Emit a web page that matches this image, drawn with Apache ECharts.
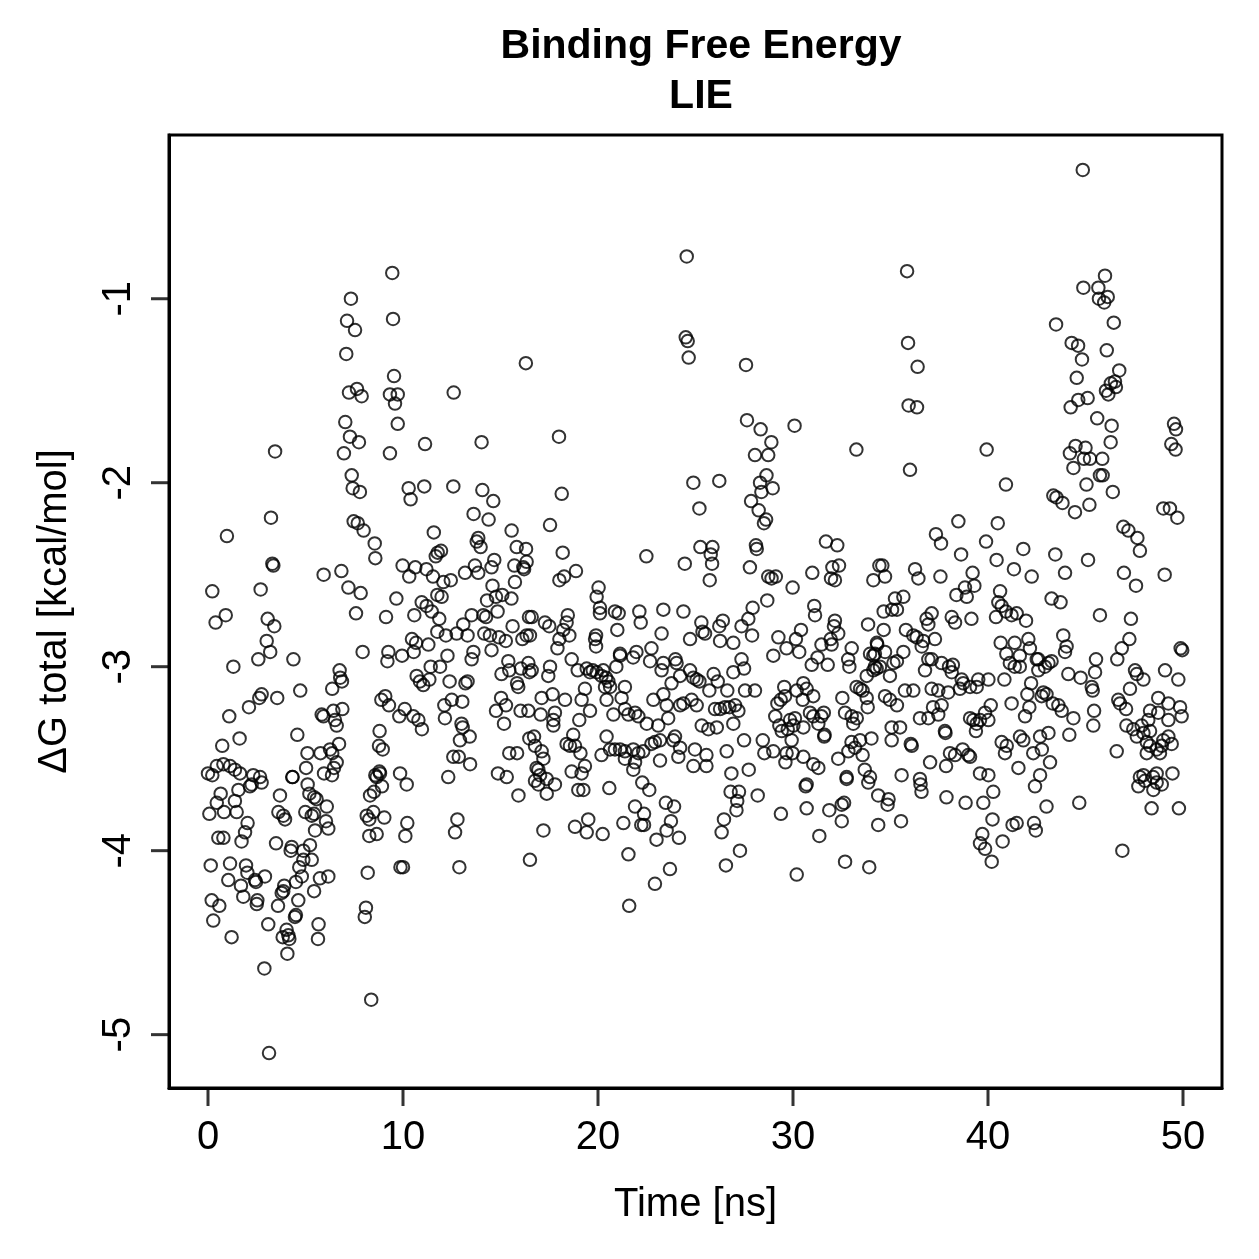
<!DOCTYPE html>
<html>
<head>
<meta charset="utf-8">
<title>Binding Free Energy - LIE</title>
<script src="https://cdn.jsdelivr.net/npm/echarts@6/dist/echarts.min.js"></script>
<style>
  html, body { margin: 0; padding: 0; background: #fff; }
  #chart { width: 1259px; height: 1259px; }
</style>
</head>
<body>
<div id="chart"></div>
<script>
// axis ranges (R pads the data range by 4%) and tick positions
const xRange = [-2, 52];
const yRange = [-5.29, -0.11];
const xTicks = [0, 10, 20, 30, 40, 50];
const yTicks = [-5, -4, -3, -2, -1];

// [time (ns), dG total (kcal/mol)], first third of the run
const firstThird = [
  [9.45,-0.86],[7.33,-1.0],[9.49,-1.11],[7.13,-1.12],[7.54,-1.17],[7.09,-1.30],[9.54,-1.42],[16.3,-1.35],[7.23,-1.51],[7.64,-1.49],
  [7.88,-1.53],[9.33,-1.52],[9.73,-1.52],[9.59,-1.57],[12.6,-1.51],[7.04,-1.67],[9.73,-1.68],[7.28,-1.75],[7.74,-1.78],[6.97,-1.84],
  [9.33,-1.84],[11.13,-1.79],[14.03,-1.78],[3.44,-1.83],
  [7.37,-1.96],[7.42,-2.03],[7.79,-2.05],[10.29,-2.03],[11.09,-2.02],[10.39,-2.09],[12.58,-2.02],[14.07,-2.04],[14.63,-2.10],[3.23,-2.19],
  [0.97,-2.29],[7.47,-2.21],[7.68,-2.22],[7.98,-2.26],[8.55,-2.33],[8.58,-2.41],[11.58,-2.27],[13.62,-2.17],[14.39,-2.20],[13.86,-2.30],
  [13.78,-2.32],[13.98,-2.35],[15.57,-2.26],[15.83,-2.35],[3.3,-2.44],[3.35,-2.45],[5.93,-2.50],[6.84,-2.48],[7.2,-2.57],[7.83,-2.60],
  [0.22,-2.59],[2.7,-2.58],[11.78,-2.38],[11.95,-2.37],[11.68,-2.40],[9.98,-2.45],[10.63,-2.46],[10.32,-2.51],[11.2,-2.47],[11.54,-2.51],
  [12.07,-2.54],[12.45,-2.53],[13.18,-2.49],[13.69,-2.45],[13.86,-2.49],[14.54,-2.46],[14.68,-2.42],[15.71,-2.45],[16.17,-2.46],[15.74,-2.54],
  [14.59,-2.56],[9.66,-2.63],[11.76,-2.61],[11.98,-2.62],[10.96,-2.65],[11.21,-2.67],[11.47,-2.70],[11.86,-2.74],[10.58,-2.72],[9.13,-2.73],
  [7.59,-2.71],[14.31,-2.64],[14.77,-2.62],[15.09,-2.61],[15.56,-2.63],[13.52,-2.72],[14.12,-2.72],[14.26,-2.73],[14.85,-2.70],[13.09,-2.77],
  [15.62,-2.78],[16.46,-2.73],[11.76,-2.81],[12.2,-2.83],[12.75,-2.82],[13.31,-2.83],[14.17,-2.82],[14.46,-2.83],[14.92,-2.84],[15.27,-2.86],
  [16.12,-2.85],[16.34,-2.83],[10.46,-2.85],[10.67,-2.87],[11.3,-2.88],[10.55,-2.92],[9.95,-2.94],[9.25,-2.92],[9.2,-2.97],[7.93,-2.92],
  [12.28,-2.94],[13.61,-2.92],[13.52,-2.96],[14.54,-2.91],[11.42,-3.0],[11.9,-3.0],[15.4,-2.97],[15.45,-3.02],[16.05,-3.01],[15.05,-3.04],
  [16.48,-3.03],[3.01,-2.86],[3.06,-2.74],[3.4,-2.78],[0.91,-2.72],[0.39,-2.76],[3.19,-2.92],[2.58,-2.96],[1.3,-3.0],[4.38,-2.96],
  [6.75,-3.02],[6.87,-3.08],[6.78,-3.06],[6.37,-3.12],[4.73,-3.13],[2.75,-3.15],[2.63,-3.17],[3.55,-3.17],[2.1,-3.22],[1.09,-3.27],
  [1.62,-3.39],[0.73,-3.43],[4.58,-3.37],[5.83,-3.26],[5.92,-3.27],[6.43,-3.24],[6.89,-3.23],[6.51,-3.29],[6.6,-3.32],[8.8,-3.35],
  [8.89,-3.18],[9.09,-3.16],[9.28,-3.21],[10.09,-3.23],[9.81,-3.27],[10.53,-3.27],[10.79,-3.29],[10.97,-3.34],[12.12,-3.21],[12.5,-3.18],
  [13.04,-3.19],[12.15,-3.28],[12.39,-3.08],[13.2,-3.09],[13.31,-3.08],[10.7,-3.05],[10.87,-3.08],[11.04,-3.10],[11.35,-3.07],[15.91,-3.11],
  [15.85,-3.09],[15.03,-3.17],[15.28,-3.21],[14.77,-3.24],[15.18,-3.31],[16.03,-3.24],[16.43,-3.24],[13.0,-3.31],[13.06,-3.33],[13.42,-3.38],
  [12.92,-3.40],[8.77,-3.43],[8.96,-3.45],[12.58,-3.49],[12.86,-3.49],[13.44,-3.53],[15.45,-3.47],[15.85,-3.47],[16.48,-3.39],[14.87,-3.58],
  [15.32,-3.60],[9.85,-3.58],[8.79,-3.57],[8.58,-3.59],[12.32,-3.60],[6.72,-3.42],[6.26,-3.45],[6.37,-3.47],[5.77,-3.47],[5.1,-3.47],
  [5.03,-3.55],[4.34,-3.60],[6.6,-3.52],[6.46,-3.55],[5.95,-3.58],[6.36,-3.59],[0.0,-3.58],[0.45,-3.54],[0.79,-3.53],[1.13,-3.54],
  [1.38,-3.56],[1.64,-3.58],[2.32,-3.59],[0.22,-3.59],[2.67,-3.60],
  [2.75,-3.63],[2.24,-3.64],[2.15,-3.65],[1.56,-3.67],[1.38,-3.73],[0.65,-3.69],[0.45,-3.74],[0.07,-3.80],[0.82,-3.79],[1.47,-3.79],
  [2.03,-3.85],[1.9,-3.90],[1.72,-3.95],[0.53,-3.93],[0.79,-3.93],[4.32,-3.60],[3.69,-3.70],[3.61,-3.79],[3.86,-3.81],[3.95,-3.83],
  [3.49,-3.96],[4.29,-3.98],[4.24,-4.0],[5.11,-3.64],[5.2,-3.69],[5.45,-3.71],[5.57,-3.72],[4.99,-3.79],[5.32,-3.81],[5.44,-3.80],
  [6.09,-3.76],[6.05,-3.84],[6.17,-3.88],[5.49,-3.89],[5.23,-3.97],[4.89,-4.0],[5.32,-4.05],[4.89,-4.05],[4.68,-4.09],[4.81,-4.14],
  [4.51,-4.17],[3.91,-4.19],[3.86,-4.22],[3.78,-4.23],[5.44,-4.22],[5.74,-4.15],[6.17,-4.14],[0.14,-4.08],[1.13,-4.07],[1.95,-4.08],
  [2.02,-4.12],[2.41,-4.16],[2.46,-4.17],[2.92,-4.14],[1.04,-4.16],[1.69,-4.19],[1.81,-4.25],[2.53,-4.27],[2.5,-4.29],[0.19,-4.27],
  [0.58,-4.30],[0.27,-4.38],[1.21,-4.47],[3.59,-4.30],[4.63,-4.27],[4.51,-4.35],[4.46,-4.36],[3.09,-4.40],[5.67,-4.40],[5.64,-4.48],
  [4.03,-4.43],[4.12,-4.46],[3.83,-4.47],[4.17,-4.48],[4.07,-4.56],[2.89,-4.64],[3.13,-5.10],[8.37,-4.81],[8.19,-4.12],[8.1,-4.31],
  [8.04,-4.36],[8.27,-3.92],[8.65,-3.91],[8.14,-3.81],[8.27,-3.83],[8.48,-3.79],[9.04,-3.82],[8.31,-3.70],[8.51,-3.68],[8.92,-3.65],
  [8.65,-3.60],[8.82,-3.58],[10.19,-3.64],[10.22,-3.85],[10.12,-3.92],[9.87,-4.09],[10.0,-4.09],[12.79,-3.83],[12.67,-3.90],[12.89,-4.09],
  [15.92,-3.70],[16.51,-4.05]
];

// middle third
const middleThird = [
  [24.55,-0.77],[24.5,-1.21],[24.6,-1.23],[24.65,-1.32],[27.59,-1.36],[18.0,-1.75],[27.64,-1.66],[28.34,-1.71],[30.08,-1.69],[28.89,-1.78],
  [28.05,-1.85],[28.73,-1.85],[33.25,-1.82],
  [28.64,-1.96],[28.31,-2.0],[28.96,-2.03],[28.38,-2.05],[27.85,-2.10],[28.24,-2.15],[28.62,-2.20],[28.51,-2.22],[24.89,-2.0],[26.22,-1.99],
  [25.2,-2.14],[18.14,-2.06],[17.54,-2.23],[28.1,-2.34],[28.14,-2.36],[25.25,-2.35],[25.87,-2.35],[25.78,-2.39],[25.85,-2.44],[25.73,-2.53],
  [24.45,-2.44],[22.48,-2.40],[18.19,-2.38],[16.31,-2.36],[16.34,-2.43],[16.21,-2.47],[18.87,-2.48],[18.02,-2.53],[18.26,-2.51],[31.69,-2.32],
  [32.27,-2.34],[27.79,-2.46],[28.73,-2.51],[28.9,-2.52],[29.12,-2.51],[29.98,-2.57],[30.99,-2.49],[32.02,-2.46],[32.36,-2.45],[31.95,-2.52],
  [32.15,-2.53],[34.12,-2.53],[34.43,-2.45],[20.03,-2.57],[19.93,-2.62],[20.1,-2.68],[20.1,-2.71],[20.87,-2.70],[21.06,-2.71],[20.99,-2.80],
  [22.12,-2.70],[22.19,-2.76],[23.35,-2.69],[24.38,-2.70],[16.6,-2.73],[17.28,-2.76],[17.5,-2.78],[18.45,-2.72],[18.39,-2.76],[18.22,-2.80],
  [18.53,-2.83],[18.02,-2.85],[17.92,-2.90],[16.51,-2.83],[19.9,-2.83],[19.85,-2.85],[19.9,-2.89],[23.26,-2.82],[24.72,-2.85],[25.3,-2.76],
  [25.36,-2.81],[25.49,-2.82],[26.22,-2.78],[26.4,-2.75],[26.26,-2.86],[26.94,-2.87],[27.36,-2.78],[27.71,-2.74],[27.93,-2.68],[27.9,-2.83],
  [28.68,-2.64],[31.09,-2.67],[31.13,-2.72],[29.25,-2.84],[30.15,-2.85],[30.41,-2.80],[29.67,-2.90],[30.32,-2.92],[28.99,-2.94],[32.15,-2.75],
  [32.1,-2.78],[32.32,-2.82],[31.93,-2.85],[31.98,-2.88],[31.46,-2.88],[31.26,-2.95],[30.96,-2.99],[31.78,-2.99],[33.85,-2.77],[33.01,-2.90],
  [32.83,-2.96],[32.89,-3.0],[34.32,-2.88],[33.95,-2.93],[34.12,-2.94],[34.2,-3.0],[34.12,-3.02],[33.78,-3.05],[33.26,-3.11],[33.44,-3.12],
  [33.57,-3.13],[32.53,-3.17],[32.67,-3.25],[33.01,-3.27],[33.27,-3.28],[33.09,-3.31],[33.78,-3.17],[33.83,-3.22],[34.02,-3.39],[33.44,-3.40],
  [33.0,-3.41],[33.18,-3.44],[32.84,-3.46],[33.57,-3.48],[33.68,-3.56],[32.32,-3.50],[32.75,-3.60],[33.95,-3.60],[29.55,-3.11],[30.53,-3.09],
  [30.7,-3.12],[30.19,-3.13],[31.04,-3.16],[30.5,-3.18],[29.59,-3.16],[29.37,-3.18],[29.2,-3.20],[29.09,-3.27],[29.3,-3.32],[29.42,-3.35],
  [29.85,-3.29],[30.1,-3.28],[29.73,-3.34],[30.02,-3.32],[29.93,-3.40],[30.53,-3.33],[30.87,-3.25],[31.04,-3.27],[31.46,-3.27],[31.58,-3.25],
  [31.3,-3.31],[31.6,-3.38],[31.62,-3.37],[30.53,-3.49],[31.04,-3.53],[31.3,-3.55],[29.67,-3.47],[29.98,-3.47],[28.99,-3.46],[28.53,-3.47],
  [28.45,-3.40],[29.61,-3.52],[27.73,-3.56],[27.49,-3.40],[26.6,-3.46],[26.84,-3.58],[16.43,-2.98],[16.6,-3.02],[17.54,-3.0],[17.45,-3.05],
  [18.65,-2.96],[18.96,-3.02],[19.42,-3.01],[19.59,-3.03],[19.73,-3.02],[19.93,-3.03],[20.27,-3.02],[20.41,-3.06],[20.53,-3.08],[20.62,-3.11],
  [20.94,-3.0],[21.13,-2.93],[21.13,-2.94],[21.97,-2.92],[21.8,-2.95],[22.74,-2.90],[22.67,-2.97],[23.35,-2.98],[23.26,-3.02],[23.97,-2.96],
  [24.03,-2.98],[24.72,-3.02],[24.89,-3.06],[25.06,-3.07],[25.2,-3.08],[24.21,-3.05],[23.77,-3.09],[25.93,-3.04],[26.14,-3.08],[25.71,-3.13],
  [26.63,-3.13],[26.94,-3.03],[27.36,-2.96],[27.49,-3.01],[27.54,-3.13],[28.05,-3.13],[19.33,-3.12],[19.16,-3.18],[19.59,-3.24],[19.04,-3.29],
  [18.31,-3.18],[17.67,-3.15],[17.11,-3.17],[17.06,-3.26],[17.79,-3.25],[17.71,-3.29],[17.71,-3.32],[16.72,-3.38],[16.77,-3.43],[17.11,-3.46],
  [17.2,-3.50],[16.94,-3.56],[16.85,-3.55],[17.03,-3.59],[18.39,-3.42],[18.73,-3.37],[18.56,-3.43],[18.82,-3.43],[19.1,-3.47],[19.33,-3.54],
  [18.65,-3.57],[19.16,-3.58],[20.18,-3.48],[20.44,-3.38],[20.62,-3.45],[20.87,-3.45],[21.13,-3.45],[21.38,-3.46],[21.81,-3.45],[22.07,-3.47],
  [21.38,-3.50],[21.9,-3.52],[21.81,-3.56],[22.32,-3.46],[22.74,-3.42],[22.92,-3.41],[23.18,-3.40],[23.95,-3.38],[23.86,-3.40],[24.21,-3.44],
  [24.12,-3.49],[23.18,-3.51],[24.97,-3.45],[25.56,-3.48],[25.56,-3.54],[24.89,-3.54],[20.44,-3.18],[20.79,-3.26],[21.38,-3.23],[21.56,-3.26],
  [21.9,-3.25],[22.07,-3.27],[22.5,-3.31],[23.09,-3.32],[20.18,-3.05],[20.36,-3.11],[21.38,-3.11],[21.21,-3.17],[22.84,-3.18],[23.35,-3.15],
  [23.52,-3.21],[23.6,-3.28],[24.21,-3.21],[24.38,-3.20],[24.8,-3.18],[25.06,-3.21],[25.32,-3.32],[25.66,-3.34],[26.09,-3.33],[26.0,-3.23],
  [26.26,-3.23],[26.51,-3.22],[26.74,-3.22],[27.03,-3.21],[27.2,-3.24],[26.94,-3.31],
  [16.77,-3.62],[16.94,-3.64],[17.37,-3.61],[17.37,-3.69],[17.79,-3.64],[18.99,-3.67],[19.25,-3.67],[20.58,-3.66],[22.27,-3.63],[22.63,-3.67],
  [21.9,-3.76],[22.36,-3.80],[22.22,-3.86],[22.36,-3.86],[21.3,-3.85],[19.5,-3.83],[19.42,-3.90],[18.82,-3.87],[20.24,-3.91],[17.2,-3.89],
  [21.56,-4.02],[23.69,-4.10],[22.92,-4.18],[21.6,-4.30],[23.48,-3.74],[23.9,-3.76],[23.74,-3.84],[23.52,-3.89],[23.0,-3.94],[24.15,-3.93],
  [26.8,-3.68],[27.23,-3.68],[27.14,-3.73],[27.1,-3.78],[28.19,-3.70],[26.46,-3.83],[26.34,-3.90],[27.28,-4.0],[26.56,-4.08],[29.38,-3.80],
  [30.19,-4.13],[30.7,-3.64],[30.65,-3.65],[30.7,-3.77],[31.86,-3.78],[32.5,-3.75],[32.62,-3.74],[32.5,-3.84],[31.35,-3.92],[32.75,-3.61],
  [33.86,-3.63],[34.37,-3.70],[34.37,-3.86],[32.67,-4.06],[33.91,-4.09]
];

// last third
const lastThird = [
  [44.86,-0.30],[35.85,-0.85],[46.0,-0.875],[44.89,-0.94],[45.66,-0.94],[46.14,-0.99],[45.69,-1.0],[45.96,-1.02],[43.49,-1.14],[46.45,-1.13],
  [35.9,-1.24],[44.29,-1.24],[44.62,-1.255],[46.09,-1.28],[44.82,-1.33],[36.39,-1.37],[46.73,-1.39],[44.55,-1.43],[46.51,-1.45],[46.3,-1.46],
  [46.56,-1.48],[46.05,-1.50],[46.17,-1.52],[44.63,-1.55],[45.11,-1.54],[44.24,-1.59],[35.93,-1.58],[36.36,-1.59],[45.6,-1.65],[46.34,-1.69],
  [49.54,-1.68],[49.64,-1.71],[46.29,-1.78],[49.4,-1.79],[49.62,-1.82],[39.93,-1.82],[44.49,-1.80],[45.0,-1.81],[44.2,-1.84],[44.92,-1.87],
  [45.23,-1.87],[45.86,-1.87],[44.38,-1.92],[36.0,-1.93],
  [40.92,-2.01],[45.05,-2.01],[45.74,-1.96],[45.88,-1.96],[46.4,-2.05],[43.35,-2.07],[43.51,-2.08],[43.82,-2.11],[44.46,-2.16],[45.2,-2.12],
  [48.99,-2.14],[49.33,-2.14],[49.71,-2.19],[46.94,-2.24],[47.2,-2.26],[47.66,-2.30],[47.79,-2.37],[49.06,-2.50],[46.97,-2.49],[47.59,-2.56],
  [45.13,-2.42],[43.95,-2.49],[43.45,-2.39],[43.26,-2.63],[43.72,-2.65],[45.74,-2.72],[47.33,-2.74],[47.25,-2.85],[46.86,-2.90],[46.63,-2.96],
  [49.88,-2.90],[49.96,-2.91],[43.86,-2.83],[44.03,-2.89],[43.95,-2.92],[45.54,-2.96],[45.49,-3.03],[45.32,-3.11],[45.37,-3.13],[44.12,-3.04],
  [44.75,-3.06],[47.54,-3.02],[47.63,-3.04],[47.97,-3.07],[47.28,-3.12],[49.08,-3.02],[49.76,-3.07],[46.68,-3.18],[46.77,-3.20],[47.08,-3.23],
  [48.73,-3.17],[48.31,-3.24],[48.73,-3.25],[49.25,-3.20],[49.85,-3.22],[49.93,-3.27],[49.25,-3.29],[47.1,-3.32],[47.45,-3.34],[47.63,-3.38],
  [47.88,-3.32],[47.97,-3.36],[48.22,-3.29],[48.31,-3.35],[48.14,-3.41],[48.31,-3.43],[48.14,-3.47],[48.65,-3.45],[48.99,-3.40],[49.25,-3.38],
  [48.91,-3.43],[49.42,-3.42],[48.82,-3.47],[46.6,-3.46],[47.97,-3.59],[48.65,-3.58],[49.46,-3.58],[48.47,-3.60],[44.17,-3.37],[44.38,-3.28],
  [45.44,-3.24],[45.4,-3.32],[43.78,-3.24],[43.61,-3.21],[43.32,-3.20],[42.84,-3.14],[42.75,-3.16],[43.0,-3.15],[42.58,-3.02],[42.92,-3.0],
  [43.1,-2.98],[43.26,-2.97],[42.58,-2.96],[42.21,-3.09],[42.02,-3.15],[42.12,-3.22],[41.9,-3.27],[42.07,-2.85],[42.15,-2.90],[42.5,-2.96],
  [41.37,-2.87],[41.63,-2.94],[40.94,-2.93],[41.12,-2.98],[41.37,-3.0],[41.63,-3.0],[40.65,-2.87],[40.84,-3.07],[41.21,-3.20],[40.62,-2.59],
  [40.53,-2.65],[40.7,-2.67],[40.92,-2.70],[41.21,-2.72],[41.47,-2.71],[41.95,-2.75],[40.41,-2.73],[40.44,-2.42],[39.9,-2.32],[40.5,-2.22],
  [41.81,-2.36],[41.33,-2.47],[42.24,-2.51],[38.48,-2.21],[37.33,-2.28],[37.59,-2.33],[38.62,-2.39],[39.21,-2.49],[39.3,-2.56],[38.82,-2.57],
  [38.91,-2.62],[38.38,-2.61],[39.15,-2.74],[38.14,-2.73],[38.31,-2.76],[37.56,-2.51],[36.26,-2.47],[36.43,-2.52],[34.58,-2.45],[34.72,-2.51],
  [35.23,-2.63],[35.66,-2.62],[35.33,-2.69],[35.08,-2.69],[34.65,-2.70],[34.65,-2.80],[34.3,-2.87],[34.72,-2.92],[34.2,-2.93],[35.79,-2.80],
  [36.17,-2.83],[36.34,-2.84],[36.68,-2.86],[36.6,-2.89],[37.28,-2.85],[37.11,-2.71],[36.85,-2.74],[36.94,-2.77],[35.66,-2.92],[35.33,-2.97],
  [35.15,-2.98],[34.46,-3.0],[34.29,-3.01],[34.97,-3.05],[36.94,-2.96],[37.11,-2.96],[36.77,-3.02],[37.62,-2.98],[38.0,-3.0],[38.2,-2.99],
  [38.14,-3.03],[38.65,-3.07],[38.73,-3.09],[38.56,-3.12],[39.08,-3.11],[39.5,-3.07],[40.02,-3.07],[39.42,-3.11],[37.11,-3.12],[37.45,-3.13],
  [37.96,-3.14],[35.74,-3.13],[36.17,-3.13],[34.72,-3.16],[34.97,-3.18],[35.33,-3.21],[37.18,-3.22],[37.45,-3.26],[37.62,-3.21],[36.94,-3.28],
  [36.51,-3.28],[39.08,-3.28],[39.25,-3.29],[39.42,-3.31],[39.59,-3.29],[40.02,-3.29],[39.85,-3.25],[40.14,-3.21],[39.38,-3.35],[37.79,-3.35],
  [37.82,-3.36],[36.04,-3.42],[36.09,-3.43],[35.06,-3.33],[35.49,-3.33],[35.06,-3.40],[37.03,-3.52],[37.85,-3.54],[38.05,-3.47],[38.31,-3.48],
  [38.7,-3.45],[38.99,-3.48],[39.08,-3.49],[35.57,-3.59],[36.51,-3.61],[39.59,-3.58],[40.02,-3.59],[40.7,-3.41],[40.96,-3.43],[40.87,-3.47],
  [41.56,-3.55],[41.64,-3.38],[41.81,-3.40],[42.32,-3.47],[42.67,-3.38],[42.76,-3.45],[43.1,-3.36],[43.18,-3.52],[42.67,-3.59],
  [36.54,-3.64],[36.59,-3.68],[34.9,-3.72],[34.85,-3.75],[35.54,-3.84],[37.87,-3.71],[38.85,-3.74],[39.76,-3.74],[40.27,-3.68],[42.41,-3.65],
  [43.0,-3.76],[44.68,-3.74],[40.23,-3.83],[39.71,-3.91],[39.59,-3.96],[39.85,-3.99],[40.19,-4.06],[40.75,-3.95],[41.26,-3.86],[41.47,-3.85],
  [42.36,-3.85],[42.45,-3.89],[46.89,-4.0],[47.79,-3.60],[48.05,-3.62],[48.65,-3.63],[48.48,-3.67],[48.91,-3.64],[47.71,-3.65],[48.39,-3.77],
  [49.79,-3.77]
];

const chart = echarts.init(document.getElementById("chart"));
const font = "'Liberation Sans', Arial, sans-serif";
const tickLen = 18;

// outward tick marks as thin rect symbols sitting on the axis edges, positioned by the axes' scales
const xTickMarks = {
  type: "scatter",
  data: xTicks.map((v) => [v, yRange[0]]),
  symbol: "rect",
  symbolSize: [3, tickLen],
  symbolOffset: [0, tickLen / 2],
  itemStyle: { color: "#000" },
  clip: false,
  silent: true,
  z: 5,
};
const yTickMarks = {
  type: "scatter",
  data: yTicks.map((v) => [xRange[0], v]),
  symbol: "rect",
  symbolSize: [tickLen, 3],
  symbolOffset: [-tickLen / 2, 0],
  itemStyle: { color: "#000" },
  clip: false,
  silent: true,
  z: 5,
};

const option = {
  animation: false,
  textStyle: { fontFamily: font, color: "#000" },
  title: {
    text: "Binding Free Energy\nLIE",
    left: 696,
    top: 17,
    textAlign: "center",
    textStyle: { fontFamily: font, fontSize: 41, fontWeight: "bold", lineHeight: 50, color: "#000" },
  },
  grid: {
    left: 169,
    right: 37,
    top: 135,
    bottom: 171,
    show: true,
    borderColor: "#000",
    borderWidth: 3,
  },
  xAxis: {
    type: "value",
    min: xRange[0],
    max: xRange[1],
    name: "Time [ns]",
    nameLocation: "middle",
    nameGap: 97,
    nameTextStyle: { fontFamily: font, fontSize: 40, color: "#000" },
    axisLine: { show: true, onZero: false, lineStyle: { color: "#000", width: 3 } },
    splitLine: { show: false },
    axisTick: { show: false },
    axisLabel: { fontFamily: font, fontSize: 40, color: "#000", margin: 30, customValues: xTicks },
  },
  yAxis: {
    type: "value",
    min: yRange[0],
    max: yRange[1],
    name: "\u0394G total [kcal/mol]",
    nameLocation: "middle",
    nameGap: 94,
    nameTextStyle: { fontFamily: font, fontSize: 40, color: "#000" },
    axisLine: { show: true, onZero: false, lineStyle: { color: "#000", width: 3 } },
    splitLine: { show: false },
    axisTick: { show: false },
    axisLabel: { fontFamily: font, fontSize: 40, color: "#000", margin: 30, rotate: 90, customValues: yTicks },
  },
  series: [firstThird, middleThird, lastThird].map((pts) => ({
    type: "scatter",
    data: pts,
    symbol: "circle",
    symbolSize: 12.5,
    itemStyle: { color: "rgba(0,0,0,0)", borderColor: "#000", borderWidth: 2 },
    emphasis: { disabled: true },
  })).concat([xTickMarks, yTickMarks]),
};

chart.setOption(option);
</script>
</body>
</html>
